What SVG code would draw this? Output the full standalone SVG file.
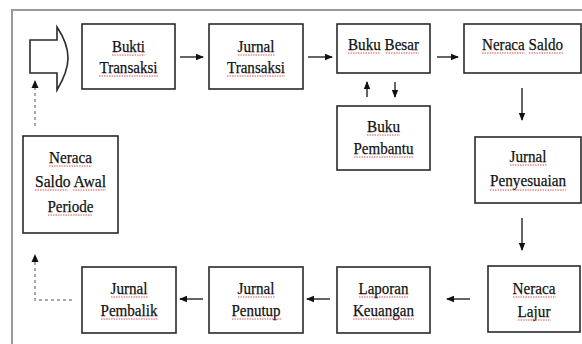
<svg xmlns="http://www.w3.org/2000/svg" width="582" height="344" viewBox="0 0 582 344">
<defs>
<marker id="ah" markerUnits="userSpaceOnUse" markerWidth="8" markerHeight="8" viewBox="0 0 8 8" refX="7" refY="4" orient="auto">
<path d="M0,0.8 L8,4 L0,7.2 Z" fill="#111"/>
</marker>
<style>
.box{fill:#fff;stroke:#2a2a2a;stroke-width:1.6}
.t{font-family:'Liberation Serif','Times New Roman',serif;font-size:17.5px;fill:#111;stroke:#111;stroke-width:0.25;text-anchor:middle}
.conn{stroke:#111;stroke-width:1.3;fill:none}
.dash{stroke:#a8a8a8;stroke-width:2;stroke-dasharray:3 3;fill:none}
.sq{stroke:#e05050;stroke-width:1;stroke-dasharray:1.5 1;fill:none}
.frame{stroke:#9a9a9a;stroke-width:2;fill:none}
</style>
</defs>
<rect width="582" height="344" fill="#fff"/>
<path class="frame" d="M12,344 V10 H582"/>

<g id="start-arrow">
<path d="M30,40 H57 V27 C63,36 68,48 68,58 C68,68 63,80 57,90 V73 H30 Z" fill="#fff" stroke="#2a2a2a" stroke-width="1.6"/>
</g>

<g id="bukti-transaksi">
<rect class="box" x="82" y="24" width="93" height="65"/>
<text class="t" x="128.5" y="52" textLength="33" lengthAdjust="spacingAndGlyphs">Bukti</text>
<text class="t" x="128.5" y="73" textLength="58" lengthAdjust="spacingAndGlyphs">Transaksi</text>
<path class="sq" d="M112,55 H145 M99,76 H158"/>
</g>

<g id="jurnal-transaksi">
<rect class="box" x="209" y="24" width="94" height="65"/>
<text class="t" x="256" y="52" textLength="37" lengthAdjust="spacingAndGlyphs">Jurnal</text>
<text class="t" x="256" y="73" textLength="58" lengthAdjust="spacingAndGlyphs">Transaksi</text>
<path class="sq" d="M238,55 H275 M227,76 H285"/>
</g>

<g id="buku-besar">
<rect class="box" x="337" y="24" width="93" height="49"/>
<text class="t" x="383.5" y="50" textLength="71" lengthAdjust="spacingAndGlyphs">Buku Besar</text>
<path class="sq" d="M348,53 H380 M386,53 H419"/>
</g>

<g id="neraca-saldo">
<rect class="box" x="464" y="24" width="117" height="49"/>
<text class="t" x="522.5" y="50" textLength="81" lengthAdjust="spacingAndGlyphs">Neraca Saldo</text>
<path class="sq" d="M482,53 H525 M529,53 H563"/>
</g>

<g id="buku-pembantu">
<rect class="box" x="337" y="106" width="93" height="64"/>
<text class="t" x="383.5" y="132" textLength="33" lengthAdjust="spacingAndGlyphs">Buku</text>
<text class="t" x="383.5" y="154" textLength="60" lengthAdjust="spacingAndGlyphs">Pembantu</text>
<path class="sq" d="M367,135 H400 M354,157 H414"/>
</g>

<g id="jurnal-penyesuaian">
<rect class="box" x="475" y="137" width="106" height="66"/>
<text class="t" x="528" y="162" textLength="37" lengthAdjust="spacingAndGlyphs">Jurnal</text>
<text class="t" x="528" y="186" textLength="76" lengthAdjust="spacingAndGlyphs">Penyesuaian</text>
<path class="sq" d="M510,165 H547 M490,190 H566"/>
</g>

<g id="neraca-saldo-awal-periode">
<rect class="box" x="23" y="136" width="95" height="97"/>
<text class="t" x="70.5" y="163" textLength="43" lengthAdjust="spacingAndGlyphs">Neraca</text>
<text class="t" x="70.5" y="187" textLength="71" lengthAdjust="spacingAndGlyphs">Saldo Awal</text>
<text class="t" x="70.5" y="212" textLength="46" lengthAdjust="spacingAndGlyphs">Periode</text>
<path class="sq" d="M49,166 H92 M35,190 H68 M73,190 H106 M48,215 H93"/>
</g>

<g id="neraca-lajur">
<rect class="box" x="488" y="266" width="92" height="66"/>
<text class="t" x="534" y="294" textLength="43" lengthAdjust="spacingAndGlyphs">Neraca</text>
<text class="t" x="534" y="317" textLength="33" lengthAdjust="spacingAndGlyphs">Lajur</text>
<path class="sq" d="M513,297 H556 M518,320 H551"/>
</g>

<g id="laporan-keuangan">
<rect class="box" x="337" y="267" width="93" height="66"/>
<text class="t" x="383.5" y="294" textLength="50" lengthAdjust="spacingAndGlyphs">Laporan</text>
<text class="t" x="383.5" y="316" textLength="61" lengthAdjust="spacingAndGlyphs">Keuangan</text>
<path class="sq" d="M359,297 H409 M353,319 H414"/>
</g>

<g id="jurnal-penutup">
<rect class="box" x="209" y="267" width="94" height="66"/>
<text class="t" x="256" y="294" textLength="37" lengthAdjust="spacingAndGlyphs">Jurnal</text>
<text class="t" x="256" y="316" textLength="49" lengthAdjust="spacingAndGlyphs">Penutup</text>
<path class="sq" d="M238,297 H275 M232,319 H281"/>
</g>

<g id="jurnal-pembalik">
<rect class="box" x="82" y="267" width="94" height="66"/>
<text class="t" x="129" y="294" textLength="37" lengthAdjust="spacingAndGlyphs">Jurnal</text>
<text class="t" x="129" y="316" textLength="57" lengthAdjust="spacingAndGlyphs">Pembalik</text>
<path class="sq" d="M111,297 H148 M101,319 H158"/>
</g>

<g id="connectors">
<line class="conn" x1="180" y1="57" x2="203" y2="57" marker-end="url(#ah)"/>
<line class="conn" x1="308" y1="57" x2="332" y2="57" marker-end="url(#ah)"/>
<line class="conn" x1="437" y1="57" x2="458" y2="57" marker-end="url(#ah)"/>
<line class="conn" x1="367" y1="97" x2="367" y2="82" marker-end="url(#ah)"/>
<line class="conn" x1="395" y1="82" x2="395" y2="97" marker-end="url(#ah)"/>
<line class="conn" x1="522" y1="88" x2="522" y2="120" marker-end="url(#ah)"/>
<line class="conn" x1="522" y1="218" x2="522" y2="250" marker-end="url(#ah)"/>
<line class="conn" x1="470" y1="299" x2="447" y2="299" marker-end="url(#ah)"/>
<line class="conn" x1="330" y1="299" x2="307" y2="299" marker-end="url(#ah)"/>
<line class="conn" x1="203" y1="299" x2="180" y2="299" marker-end="url(#ah)"/>
<path class="dash" d="M72,300 H35 V258"/>
<path d="M31.5,262 L35,254 L38.5,262 Z" fill="#111"/>
<path class="dash" d="M35,126 V84"/>
<path d="M31.5,88 L35,80 L38.5,88 Z" fill="#111"/>
</g>
</svg>
